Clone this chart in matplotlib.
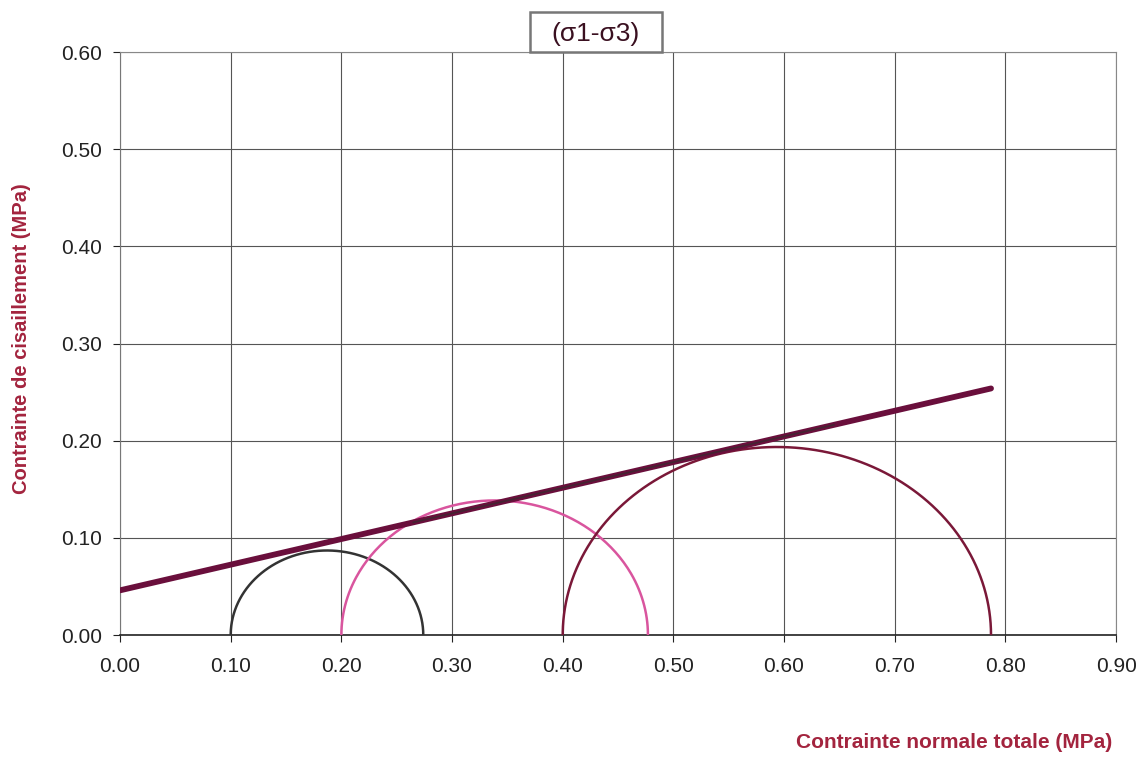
import numpy as np
import matplotlib
matplotlib.use("Agg")
import matplotlib.pyplot as plt
from matplotlib.patches import Rectangle

plt.rcParams['font.family'] = ['Liberation Sans', 'DejaVu Sans']

# Mohr circles: (sigma3, sigma1) in MPa
sigma3 = [0.10, 0.20, 0.40]
sigma1 = [0.274, 0.477, 0.787]
circle_colors = ['#333333', '#D9559E', '#7A1838']

# Failure envelope: cohesion and slope
cohesion = 0.046
slope = 0.264
env_x = [0.0, 0.787]
overlay_x = [0.265, 0.645]

x_ticks = [0.00, 0.10, 0.20, 0.30, 0.40, 0.50, 0.60, 0.70, 0.80, 0.90]
y_ticks = [0.00, 0.10, 0.20, 0.30, 0.40, 0.50, 0.60]

fig = plt.figure(figsize=(11.42, 7.65), dpi=100)
ax = fig.add_axes([0.1051, 0.1699, 0.8722, 0.7621])

for s3, s1, c in zip(sigma3, sigma1, circle_colors):
    center = (s1 + s3) / 2
    r = (s1 - s3) / 2
    t = np.linspace(0, np.pi, 200)
    ax.plot(center + r * np.cos(t), r * np.sin(t), color=c, lw=1.8, zorder=3)

ex = np.array(env_x)
ax.plot(ex, cohesion + slope * ex, color='#6A0F3C', lw=4.2, solid_capstyle='round', zorder=4)
ox = np.array(overlay_x)
ax.plot(ox, cohesion + slope * ox, color='#3a2a30', lw=1.2, alpha=0.8, zorder=5)

ax.set_xlim(0, 0.90)
ax.set_ylim(0, 0.60)
ax.set_xticks(x_ticks)
ax.set_yticks(y_ticks)
ax.set_xticklabels([f"{v:.2f}" for v in x_ticks])
ax.set_yticklabels([f"{v:.2f}" for v in y_ticks])
ax.tick_params(labelsize=15, colors='#222222', length=5, width=0.8)
ax.tick_params(axis='x', pad=11)
ax.tick_params(axis='y', pad=8)
ax.grid(True, color='#555555', lw=0.8)
ax.set_axisbelow(True)
for side in ['top', 'right']:
    ax.spines[side].set_color('#888888')
ax.spines['left'].set_color('#777777')
ax.spines['bottom'].set_color('#222222')
ax.spines['bottom'].set_linewidth(1.2)

fig.text(0.019, 0.558, 'Contrainte de cisaillement (MPa)', rotation=90,
         ha='center', va='center', color='#A3243E', fontsize=14.5, fontweight='bold')
fig.text(0.974, 0.017, 'Contrainte normale totale (MPa)', ha='right', va='bottom',
         color='#A3243E', fontsize=15, fontweight='bold')

fig.patches.append(Rectangle((0.464, 0.932), 0.1156, 0.0523, transform=fig.transFigure,
                             facecolor='white', edgecolor='#777777', lw=1.8, zorder=10))
fig.text(0.5215, 0.955, '(σ1-σ3)', ha='center', va='center', fontsize=19,
         color='#3a1020', zorder=11)

fig.savefig('out.png', dpi=100)
